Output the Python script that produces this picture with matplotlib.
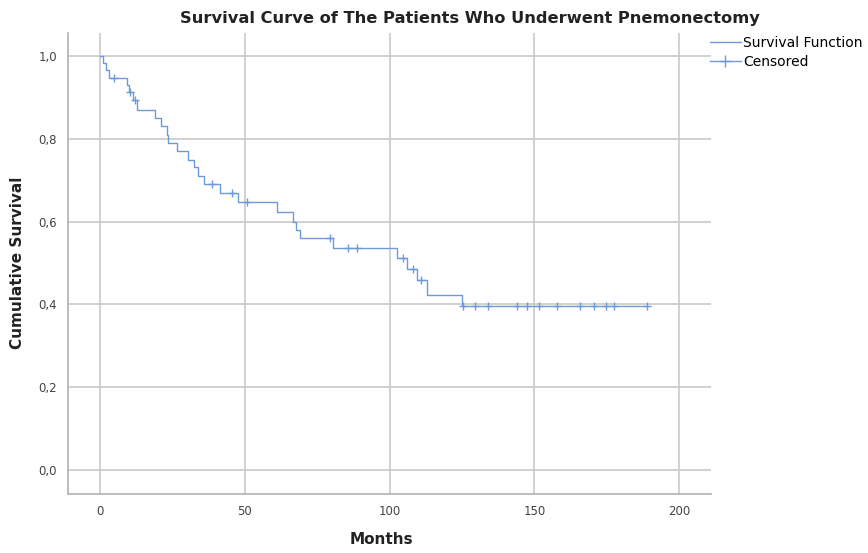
import numpy as np
import matplotlib
matplotlib.use("Agg")
import matplotlib.pyplot as plt
from matplotlib.lines import Line2D
from matplotlib.ticker import FuncFormatter

# Step times (months) and survival level after each step
step_times = [0.0, 1.0, 2.0, 3.0, 9.2, 10.0, 11.5, 12.7, 19.0, 21.0, 23.0, 23.5,
              26.5, 30.5, 32.5, 34.0, 36.0, 41.4, 47.5, 61.0, 66.8, 67.8, 69.0,
              80.3, 102.5, 105.9, 109.6, 112.8, 124.9]
surv_values = [1.0, 0.983, 0.966, 0.946, 0.93, 0.913, 0.894, 0.87, 0.85, 0.83, 0.81, 0.79,
               0.77, 0.75, 0.733, 0.71, 0.69, 0.668, 0.648, 0.624, 0.60, 0.58, 0.56,
               0.536, 0.511, 0.485, 0.459, 0.423, 0.396]
censor_times = [4.8, 10.3, 12.0, 38.8, 45.6, 50.7, 79.5, 85.8, 88.7, 104.8, 108.2, 111.0,
                125.3, 129.5, 133.9, 143.9, 147.6, 151.6, 157.7, 165.8, 170.6, 174.7,
                177.5, 188.8]
end_time = 189.0

x_ticks = [0, 50, 100, 150, 200]
y_ticks = [0.0, 0.2, 0.4, 0.6, 0.8, 1.0]

line_color = "#6b9bd8"
grid_color = "#c9c9c9"

fig = plt.figure(figsize=(8.68, 5.53), dpi=100)
ax = fig.add_axes([68/868, 1 - 494/553, (711-68)/868, (494-33)/553])

xs = list(step_times) + [end_time]
ys = list(surv_values) + [surv_values[-1]]
ax.step(xs, ys, where="post", color=line_color, lw=1.0, zorder=3)

st = np.array(step_times)
sv = np.array(surv_values)
cy = [sv[np.searchsorted(st, t, side="right") - 1] for t in censor_times]
ax.plot(censor_times, cy, linestyle="none", marker="+", markersize=6,
        markeredgewidth=1.0, color=line_color, zorder=4)

ax.set_xlim(-11.05, 211)
ax.set_ylim(-0.058, 1.0556)
ax.set_xticks(x_ticks)
ax.set_yticks(y_ticks)
ax.yaxis.set_major_formatter(FuncFormatter(lambda v, p: f"{v:.1f}".replace(".", ",")))
ax.grid(True, color=grid_color, lw=1.2, zorder=0)
ax.set_axisbelow(True)
for s in ["top", "right"]:
    ax.spines[s].set_visible(False)
for s in ["left", "bottom"]:
    ax.spines[s].set_color("#b0b0b0")
    ax.spines[s].set_linewidth(1.2)
ax.tick_params(length=0, labelsize=8.5, colors="#444444", pad=8)

fig.text(381/868, 1 - 540/553, "Months", ha="center", va="center",
         fontsize=11, fontweight="bold", color="#222222")
fig.text(18/868, 1 - 263/553, "Cumulative Survival", ha="center", va="center",
         rotation=90, fontsize=11, fontweight="bold", color="#222222")

fig.text(470/868, 1 - 18/553, "Survival Curve of The Patients Who Underwent Pnemonectomy",
         ha="center", va="center", fontsize=11.7, fontweight="bold", color="#222222")

handles = [Line2D([], [], color=line_color, lw=1.0),
           Line2D([], [], color=line_color, lw=1.0, marker="+", markersize=8)]
fig.legend(handles, ["Survival Function", "Censored"], loc="upper left",
           bbox_to_anchor=(710/868, 1 - 36/553), frameon=False, fontsize=10,
           handlelength=2.2, handletextpad=0.2, labelspacing=0.35, borderaxespad=0,
           borderpad=0)

fig.savefig("out.png", dpi=100)
